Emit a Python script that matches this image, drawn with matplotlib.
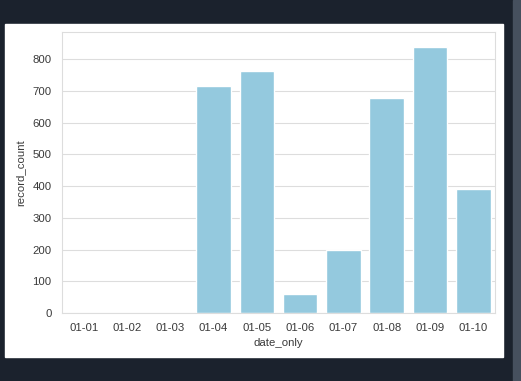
import matplotlib
matplotlib.use("Agg")
import matplotlib.pyplot as plt
import matplotlib.patches as mpatches
import seaborn as sns
import pandas as pd

dates = ["01-01", "01-02", "01-03", "01-04", "01-05", "01-06", "01-07", "01-08", "01-09", "01-10"]
counts = [0, 0, 0, 715, 764, 59, 199, 677, 838, 390]

sns.set_style("whitegrid")
plt.rcParams["font.family"] = ["Liberation Sans", "DejaVu Sans"]

W, H = 521, 381
fig = plt.figure(figsize=(W / 100, H / 100), dpi=100, facecolor="#1b222d")

# white figure card and scrollbar strip of the screenshot
fig.patches.append(mpatches.Rectangle((5 / W, 1 - 357 / H), 498 / W, 333 / H,
                                      transform=fig.transFigure, color="white", zorder=-5))
fig.patches.append(mpatches.Rectangle((513 / W, 0), 8 / W, 1,
                                      transform=fig.transFigure, color="#46505e", zorder=-5))

ax = fig.add_axes([62 / W, 1 - 313 / H, 433 / W, 281 / H])
df = pd.DataFrame({"date_only": dates, "record_count": counts})
sns.barplot(data=df, x="date_only", y="record_count", color="skyblue", ax=ax)
ax.set_ylim(0, 886)
ax.set_yticks(range(0, 900, 100))
ax.tick_params(labelsize=8.2, colors="#3a3a3a", pad=4)
ax.set_xlabel("date_only", fontsize=8.2, color="#3a3a3a", labelpad=3)
ax.set_ylabel("record_count", fontsize=8.2, color="#3a3a3a", labelpad=5)
for s in ax.spines.values():
    s.set_color("#dddddd")
ax.grid(True, axis="y", color="#dddddd", linewidth=0.8)

fig.savefig("out.png", dpi=100, facecolor=fig.get_facecolor())
